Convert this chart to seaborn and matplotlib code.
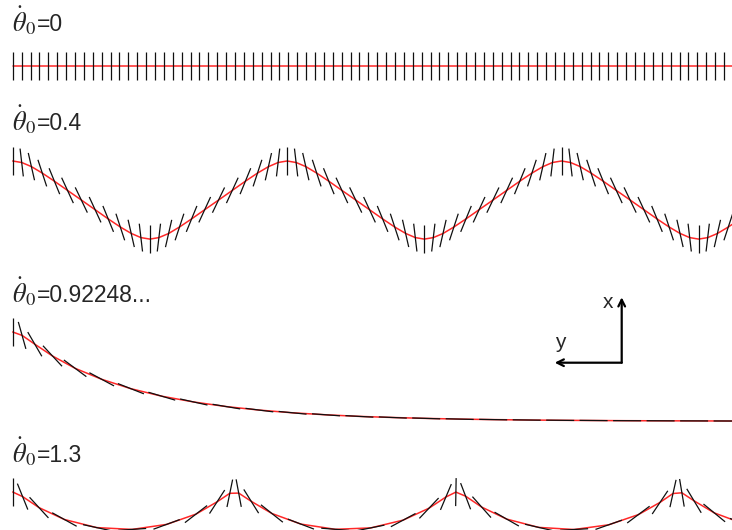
import numpy as np
import pandas as pd
import matplotlib
matplotlib.use("Agg")
import matplotlib.pyplot as plt
from matplotlib.collections import LineCollection
import seaborn as sns

sns.set_theme(style="white")
plt.rcParams["font.family"] = ["Liberation Sans", "DejaVu Sans"]
plt.rcParams["mathtext.fontset"] = "stix"

# Positions are in units of 10 px; h = horizontal travel, v = vertical (x axis, up).
# tilt = rod angle from the vertical in degrees, positive when the top leans left.
ROD_LEN = 2.8

# theta_dot_0 = 0
p1_h = [0.00, 0.89, 1.78, 2.67, 3.56, 4.45, 5.33, 6.22, 7.11, 8.00, 8.89, 9.78, 10.67,
        11.56, 12.45, 13.34, 14.22, 15.11, 16.00, 16.89, 17.78, 18.67, 19.56, 20.45,
        21.34, 22.23, 23.11, 24.00, 24.89, 25.78, 26.67, 27.56, 28.45, 29.34, 30.23,
        31.12, 32.00, 32.89, 33.78, 34.67, 35.56, 36.45, 37.34, 38.23, 39.12, 40.01,
        40.89, 41.78, 42.67, 43.56, 44.45, 45.34, 46.23, 47.12, 48.01, 48.90, 49.78,
        50.67, 51.56, 52.45, 53.34, 54.23, 55.12, 56.01, 56.90, 57.79, 58.67, 59.56,
        60.45, 61.34, 62.23, 63.12, 64.01, 64.90, 65.79, 66.68, 67.56, 68.45, 69.34,
        70.23, 71.12, 72.01]
p1_v = [0.0] * len(p1_h)
p1_tilt = [0.0] * len(p1_h)

# theta_dot_0 = 0.4
p2_h = [0.00, 0.90, 1.87, 2.96, 4.17, 5.48, 6.86, 8.24, 9.55, 10.76, 11.85, 12.82, 13.72,
        14.62, 15.59, 16.68, 17.89, 19.20, 20.58, 21.96, 23.27, 24.48, 25.57, 26.54, 27.44,
        28.34, 29.31, 30.40, 31.61, 32.92, 34.30, 35.68, 36.99, 38.20, 39.29, 40.26, 41.16,
        42.06, 43.03, 44.12, 45.33, 46.64, 48.02, 49.40, 50.71, 51.92, 53.01, 53.98, 54.88,
        55.78, 56.75, 57.84, 59.05, 60.36, 61.74, 63.12, 64.43, 65.64, 66.73, 67.70, 68.60,
        69.50, 70.47, 71.56, 72.77]
p2_v = [0.00, -0.15, -0.56, -1.21, -2.02, -2.94, -3.90, -4.87, -5.79, -6.60, -7.24, -7.66, -7.81,
        -7.66, -7.25, -6.60, -5.79, -4.87, -3.91, -2.94, -2.02, -1.21, -0.57, -0.15, 0.00,
        -0.15, -0.56, -1.21, -2.02, -2.94, -3.90, -4.87, -5.79, -6.60, -7.24, -7.66, -7.81,
        -7.66, -7.25, -6.60, -5.79, -4.87, -3.91, -2.94, -2.02, -1.21, -0.57, -0.15, 0.00,
        -0.15, -0.56, -1.21, -2.02, -2.94, -3.90, -4.87, -5.79, -6.60, -7.24, -7.66, -7.81,
        -7.66, -7.25, -6.60, -5.79]
p2_tilt = [0.0, 6.7, 12.9, 18.2, 22.3, 24.8, 25.7, 24.8, 22.3, 18.2, 12.9, 6.7, 0.0,
           -6.7, -12.9, -18.2, -22.3, -24.8, -25.7, -24.8, -22.3, -18.2, -12.9, -6.7, 0.0,
           6.7, 12.9, 18.2, 22.3, 24.8, 25.7, 24.8, 22.3, 18.2, 12.9, 6.7, 0.0,
           -6.7, -12.9, -18.2, -22.3, -24.8, -25.7, -24.8, -22.3, -18.2, -12.9, -6.7, 0.0,
           6.7, 12.9, 18.2, 22.3, 24.8, 25.7, 24.8, 22.3, 18.2, 12.9, 6.7, 0.0,
           -6.7, -12.9, -18.2, -22.3]

# theta_dot_0 = 0.92248...
p3_h = [0.00, 0.94, 2.21, 3.98, 6.24, 8.90, 11.82, 14.91, 18.11, 21.37, 24.67, 27.99,
        31.33, 34.67, 38.01, 41.35, 44.70, 48.05, 51.40, 54.75, 58.09, 61.44, 64.79,
        68.14, 71.49, 74.84]
p3_v = [0.00, -0.34, -1.22, -2.40, -3.63, -4.73, -5.67, -6.42, -7.00, -7.46, -7.81, -8.08,
        -8.28, -8.44, -8.55, -8.64, -8.71, -8.76, -8.80, -8.83, -8.85, -8.87, -8.88,
        -8.89, -8.90, -8.90]
p3_tilt = [0.0, 15.7, 30.2, 42.9, 53.4, 61.8, 68.5, 73.6, 77.5, 80.5, 82.8, 84.5, 85.9,
           86.9, 87.6, 88.2, 88.6, 89.0, 89.2, 89.4, 89.5, 89.7, 89.7, 89.8, 89.8, 89.9]

# theta_dot_0 = 1.3
p4_h = [0.00, 0.99, 2.63, 5.17, 8.40, 11.95, 15.39, 18.33, 20.44, 21.71, 22.60, 23.85,
        25.92, 28.82, 32.25, 35.80, 39.05, 41.63, 43.32, 44.32, 45.29, 46.90, 49.40,
        52.60, 56.14, 59.60, 62.57, 64.73, 66.03, 66.92, 68.13, 70.16, 73.03]
p4_v = [0.00, -0.46, -1.56, -2.75, -3.56, -3.74, -3.24, -2.21, -0.98, -0.13, -0.11, -0.93,
        -2.15, -3.21, -3.73, -3.59, -2.81, -1.62, -0.50, -0.01, -0.42, -1.51, -2.71,
        -3.54, -3.75, -3.28, -2.26, -1.04, -0.15, -0.08, -0.88, -2.09, -3.16]
p4_tilt = [0.0, 21.9, 42.5, 61.1, 77.8, -86.2, -69.9, -52.4, -32.9, -11.6, 10.6, 32.0,
           51.5, 69.1, 85.4, -78.6, -61.8, -43.4, -22.9, -1.0, 20.9, 41.6, 60.3, 77.1,
           -86.9, -70.7, -53.2, -33.9, -12.6, 9.5, 31.1, 50.6, 68.3]

label_sym = r"$\dot{\theta}_{0}$"
label_vals = ["=0", "=0.4", "=0.92248...", "=1.3"]

W, H = 732, 530
X0 = 12.7          # px where every trajectory starts
fig = plt.figure(figsize=(W / 100, H / 100), dpi=100)
fig.patch.set_facecolor("white")


def add_panel(start_px, top_px, bot_px):
    ax = fig.add_axes([0, 1 - bot_px / H, 1, (bot_px - top_px) / H])
    ax.axis("off")
    lims = ((-X0 / 10, (W - X0) / 10),
            (-(bot_px - start_px) / 10, (start_px - top_px) / 10))
    return ax, lims


def draw(ax, lims, h, v, tilt):
    h = np.asarray(h, float)
    v = np.asarray(v, float)
    t = np.radians(tilt)
    dx = -np.sin(t) * ROD_LEN / 2
    dy = np.cos(t) * ROD_LEN / 2
    df = pd.DataFrame({"h": h, "v": v})
    sns.lineplot(data=df, x="h", y="v", sort=False, estimator=None, ax=ax,
                 color="#ff1010", linewidth=1.1, alpha=0.9, zorder=2)
    segs = np.stack([np.column_stack([h - dx, v - dy]),
                     np.column_stack([h + dx, v + dy])], axis=1)
    ax.add_collection(LineCollection(segs, colors="#101010", linewidths=0.9, zorder=3))
    ax.set_xlim(*lims[0])
    ax.set_ylim(*lims[1])
    ax.set_xlabel("")
    ax.set_ylabel("")


panels = [
    (66, 45, 90, p1_h, p1_v, p1_tilt),
    (161, 140, 262, p2_h, p2_v, p2_tilt),
    (332, 290, 440, p3_h, p3_v, p3_tilt),
    (492, 470, 530, p4_h, p4_v, p4_tilt),
]
axes = []
for start, top, bot, h, v, tilt in panels:
    ax, lims = add_panel(start, top, bot)
    draw(ax, lims, h, v, tilt)
    axes.append(ax)

# panel titles: symbol and value set side by side
for val, base in zip(label_vals, [31, 130, 302, 462]):
    fig.text(12 / W, 1 - base / H, label_sym, fontsize=19, ha="left", va="baseline")
    fig.text(37 / W, 1 - base / H, val, fontsize=16.5, ha="left", va="baseline")

# coordinate axes glyph inside the third panel
ax3 = axes[2]
corner = (60.9, -3.07)
ax3.annotate("", xy=(60.9, 3.47), xytext=corner,
             arrowprops=dict(arrowstyle="->", lw=1.6, color="black",
                             shrinkA=0, shrinkB=0, mutation_scale=12))
ax3.annotate("", xy=(54.2, -3.07), xytext=corner,
             arrowprops=dict(arrowstyle="->", lw=1.6, color="black",
                             shrinkA=0, shrinkB=0, mutation_scale=12))
ax3.text(59.5, 2.4, "x", fontsize=15, ha="center", va="baseline")
ax3.text(54.8, -1.6, "y", fontsize=15, ha="center", va="baseline")

fig.savefig("out.png", dpi=100, facecolor="white")
